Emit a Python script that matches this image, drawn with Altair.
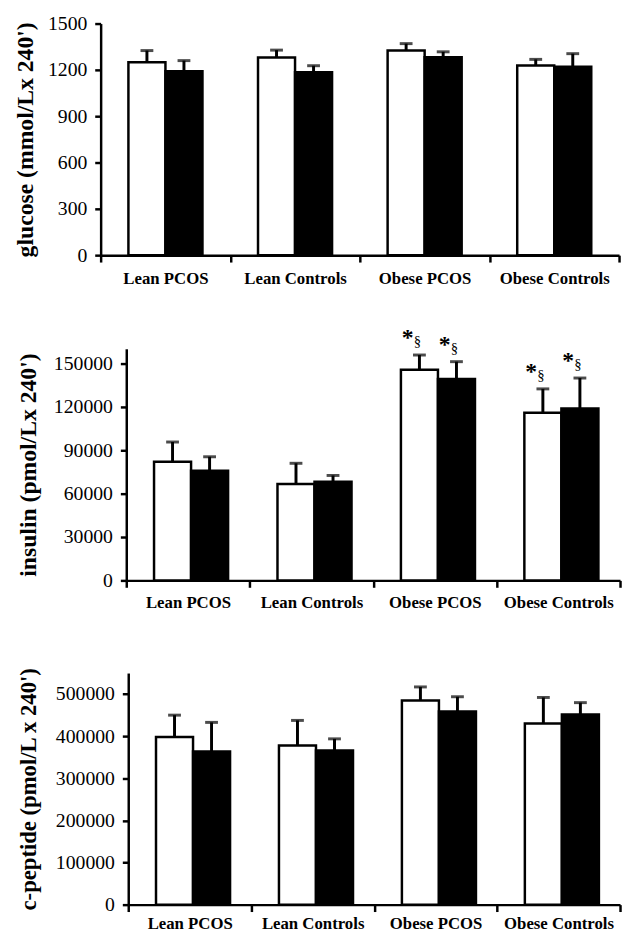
import altair as alt
import pandas as pd

groups = ["Lean PCOS", "Lean Controls", "Obese PCOS", "Obese Controls"]
series = ["Series 1", "Series 2"]

glucose_white = [1250, 1280, 1325, 1228]
glucose_white_err = [75, 48, 45, 40]
glucose_black = [1192, 1185, 1282, 1220]
glucose_black_err = [68, 42, 35, 85]

insulin_white = [82000, 66600, 145500, 115800]
insulin_white_err = [13600, 14300, 10200, 16500]
insulin_black = [75700, 68200, 139100, 118700]
insulin_black_err = [9700, 4300, 12000, 21100]

cpep_white = [398000, 378000, 485000, 430000]
cpep_white_err = [52000, 59500, 32000, 62000]
cpep_black = [364000, 366000, 459000, 451500]
cpep_black_err = [68800, 27700, 34700, 28200]

insulin_marked = [False, False, True, True]
star_symbol = "*"
section_symbol = "§"

SERIF = "Liberation Serif"


def make_df(w, we, b, be, marked):
    rows = []
    for i, g in enumerate(groups):
        rows.append(dict(group=g, series=series[0], value=w[i], top=w[i] + we[i],
                         marked=marked[i], star=star_symbol, sect=section_symbol))
        rows.append(dict(group=g, series=series[1], value=b[i], top=b[i] + be[i],
                         marked=marked[i], star=star_symbol, sect=section_symbol))
    return pd.DataFrame(rows)


def panel(df, ymax, ticks, title, width, inset, title_size, title_pad, xlabel_pad):
    yscale = alt.Scale(domain=[0, ymax], nice=False, zero=True)
    base = alt.Chart(df).encode(
        x=alt.X("group:N", sort=groups,
                scale=alt.Scale(paddingInner=0, paddingOuter=0, range=[inset, width]),
                axis=alt.Axis(title=None, labelAngle=0, labelFont=SERIF,
                              labelFontWeight="bold", labelFontSize=17,
                              labelColor="black", tickBand="extent",
                              tickSize=7, tickWidth=2.5, tickColor="black",
                              domainWidth=2.5, domainColor="black",
                              labelPadding=xlabel_pad)),
        xOffset=alt.XOffset("series:N", sort=series,
                            scale=alt.Scale(paddingInner=0, paddingOuter=0.75)),
    )
    yaxis = alt.Axis(values=ticks, format="d", title=title, titleFont=SERIF,
                     titleFontSize=title_size, titleFontWeight="bold", titleColor="black",
                     labelFont=SERIF, labelFontSize=20, labelColor="black",
                     tickSize=6, tickWidth=2.5, tickColor="black",
                     domainWidth=2.5, domainColor="black", grid=False,
                     labelPadding=8, titlePadding=title_pad, offset=-inset)
    bars = base.mark_bar(stroke="black", strokeWidth=2.5).encode(
        y=alt.Y("value:Q", scale=yscale, axis=yaxis),
        fill=alt.Fill("series:N", scale=alt.Scale(domain=series, range=["white", "black"]),
                      legend=None),
    )
    rules = base.mark_rule(color="black", strokeWidth=3).encode(
        y=alt.Y("value:Q", scale=yscale), y2="top:Q")
    caps = base.mark_tick(color="black", size=13, thickness=3).encode(
        y=alt.Y("top:Q", scale=yscale))
    layers = [bars, rules, caps]
    if df["marked"].any():
        stars = base.transform_filter("datum.marked").mark_text(
            font=SERIF, fontSize=24, fontWeight="bold", dx=-12, dy=-17,
            baseline="middle", color="black").encode(
            y=alt.Y("top:Q", scale=yscale), text="star:N")
        sects = base.transform_filter("datum.marked").mark_text(
            font=SERIF, fontSize=15, dx=-2, dy=-14, baseline="middle",
            color="black").encode(
            y=alt.Y("top:Q", scale=yscale), text="sect:N")
        layers += [stars, sects]
    return alt.layer(*layers).properties(width=width, height=235)


p1 = panel(make_df(glucose_white, glucose_white_err, glucose_black, glucose_black_err,
                   [False] * 4),
           1500, [0, 300, 600, 900, 1200, 1500], "glucose (mmol/Lx 240')",
           526, 0, 24, 10, 9)
p2 = panel(make_df(insulin_white, insulin_white_err, insulin_black, insulin_black_err,
                   insulin_marked),
           160000, [0, 30000, 60000, 90000, 120000, 150000], "insulin (pmol/Lx 240')",
           527, 26, 24, 13, 8)
p3 = panel(make_df(cpep_white, cpep_white_err, cpep_black, cpep_black_err, [False] * 4),
           550000, [0, 100000, 200000, 300000, 400000, 500000],
           "c-peptide (pmol/L x 240')", 527, 28, 23, 15, 4)

chart = alt.vconcat(alt.vconcat(p1, p2, spacing=40), p3, spacing=56).properties(
    padding={"left": 5, "top": -1, "right": 0, "bottom": -4},
    background="white",
).configure_view(stroke=None)

chart.save("out.html", embed_options={"renderer": "svg", "actions": False})
